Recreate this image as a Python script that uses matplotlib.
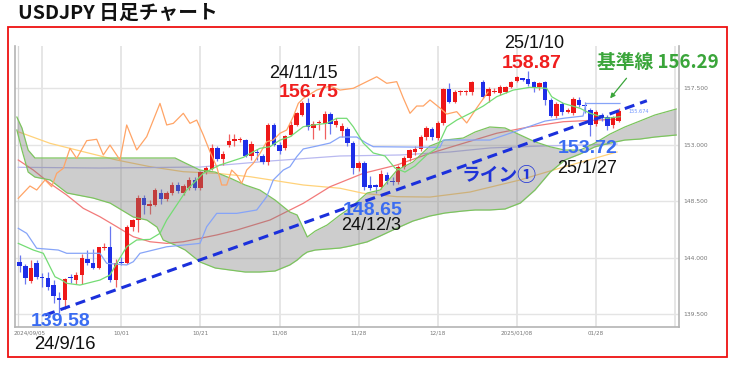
import matplotlib
matplotlib.use("Agg")
import matplotlib.pyplot as plt
from matplotlib.patches import Rectangle

W, H, DPI = 736, 366, 100

# ---------------- data (bar index, prices) ----------------
bar_idx = list(range(0, 81)) + list(range(82, 107))
opens = [143.69, 143.37, 142.18, 143.60, 142.50, 142.42, 141.84, 140.80, 140.64, 142.45,
         142.23, 142.63, 143.90, 143.60, 143.20, 144.82, 144.83, 142.23, 143.65, 143.60,
         146.43, 146.98, 148.79, 148.15, 148.20, 149.20, 148.66, 149.19, 149.80, 149.20,
         149.60, 150.20, 149.55, 150.86, 151.10, 152.72, 151.85, 152.99, 153.30, 153.40,
         153.38, 152.11, 152.45, 152.11, 151.66, 154.58, 152.99, 152.72, 153.78, 154.58,
         155.38, 156.30, 154.31, 154.71, 154.66, 155.43, 154.58, 154.10, 154.23, 153.12,
         151.12, 151.55, 149.80, 149.80, 149.67, 150.59, 150.14, 150.06, 151.26, 151.92,
         152.45, 152.64, 153.59, 154.23, 153.51, 154.76, 157.41, 156.43, 157.17, 157.20,
         157.17,
         158.02, 156.91, 157.23, 157.15, 157.23, 157.63, 158.10, 158.29, 158.21, 158.02,
         157.63, 158.02, 156.56, 155.29, 156.25, 155.64, 155.56, 156.56, 156.20, 155.75,
         154.66, 155.37, 155.24, 154.58, 154.92]
highs = [144.20, 143.50, 143.83, 143.80, 142.80, 142.90, 142.20, 141.30, 142.40, 142.70,
         142.90, 144.30, 144.60, 144.70, 144.90, 145.20, 146.50, 143.90, 144.09, 146.60,
         147.10, 149.00, 149.00, 148.60, 149.60, 149.50, 149.30, 150.00, 150.00, 149.90,
         150.40, 150.40, 150.90, 151.30, 153.10, 152.90, 152.50, 153.90, 153.90, 153.60,
         153.50, 153.30, 152.70, 152.30, 154.70, 154.70, 153.20, 153.80, 154.90, 155.60,
         156.50, 156.75, 154.90, 155.00, 155.70, 155.60, 155.10, 154.70, 154.40, 153.30,
         151.70, 151.70, 150.50, 149.90, 151.00, 150.80, 150.40, 151.40, 152.10, 152.70,
         152.90, 153.80, 154.50, 154.40, 154.90, 157.50, 157.90, 157.40, 157.40, 157.40,
         158.10,
         158.20, 157.60, 157.50, 157.80, 157.70, 158.10, 158.50, 158.35, 158.87, 158.10,
         158.00, 158.10, 156.70, 156.40, 156.40, 155.90, 156.80, 156.80, 156.40, 155.90,
         155.80, 155.50, 155.40, 155.30, 155.90]
lows = [142.90, 141.90, 142.02, 142.30, 141.70, 141.40, 140.40, 139.58, 139.90, 142.00,
        141.90, 141.90, 143.40, 143.10, 143.10, 144.60, 142.10, 141.70, 143.43, 143.50,
        146.10, 146.08, 147.50, 147.50, 148.10, 148.30, 148.50, 149.00, 149.20, 149.00,
        149.40, 149.40, 149.40, 150.70, 151.00, 151.70, 151.40, 152.80, 152.90, 153.20,
        152.00, 151.80, 151.80, 151.50, 151.40, 152.90, 152.30, 152.60, 153.70, 154.50,
        155.30, 154.20, 153.50, 154.20, 153.50, 153.90, 154.40, 153.60, 152.90, 150.70,
        150.90, 149.40, 149.40, 149.20, 149.50, 149.90, 149.80, 149.90, 151.10, 151.70,
        152.20, 152.50, 153.40, 153.40, 153.40, 154.60, 156.30, 156.30, 157.00, 157.00,
        157.00,
        156.70, 156.40, 157.10, 157.00, 157.10, 157.50, 158.00, 158.10, 157.70, 157.20,
        157.40, 156.20, 155.20, 155.10, 155.40, 155.50, 155.40, 156.00, 155.50, 153.72,
        154.50, 154.90, 154.20, 154.30, 154.80]
closes = [143.37, 142.37, 143.16, 142.45, 142.42, 141.70, 140.96, 140.68, 142.29, 142.40,
          142.63, 144.01, 143.60, 143.20, 144.83, 144.90, 142.23, 143.60, 143.60, 146.45,
          146.98, 148.74, 148.20, 148.30, 149.40, 148.66, 149.13, 149.80, 149.35, 149.70,
          150.20, 149.55, 150.80, 151.18, 152.72, 151.85, 152.30, 153.33, 153.44, 153.46,
          152.11, 153.07, 152.35, 151.66, 154.58, 152.99, 152.53, 153.70, 154.58, 155.51,
          156.30, 154.40, 154.66, 154.84, 155.43, 154.66, 154.90, 154.50, 153.12, 151.12,
          151.52, 149.67, 149.60, 149.67, 150.67, 150.14, 150.01, 151.26, 151.92, 152.58,
          152.64, 153.64, 154.31, 153.59, 154.76, 157.41, 156.43, 157.23, 157.30, 157.30,
          158.02,
          156.83, 157.41, 157.30, 157.63, 157.63, 158.02, 158.42, 158.16, 157.84, 157.57,
          157.95, 156.56, 155.29, 156.25, 155.64, 155.77, 156.62, 156.17, 156.10, 154.60,
          155.60, 155.10, 154.50, 155.24, 155.67]

# Ichimoku cloud (leading spans), read at common positions
cloud_x = [-0.5, 0.4, 1.5, 2.7, 5.4, 8.4, 13.0, 16.0, 20.1, 22.5, 24.3, 25.4, 27.5, 29.3,
           31.9, 34.6, 37.2, 39.9, 42.5, 45.2, 47.8, 49.1, 50.1, 50.9, 52.3, 54.4, 56.7,
           58.5, 61.5, 63.8, 66.8, 69.6, 72.6, 75.3, 78.5, 80.6, 83.2, 85.9, 88.6, 91.2,
           93.9, 96.5, 99.2, 101.8, 104.5, 107.1, 109.8, 112.4, 116.2]
span_a = [155.21, 154.34, 152.58, 151.95, 151.95, 151.95, 151.95, 151.95, 151.95, 151.95,
          151.95, 151.95, 151.95, 151.55, 150.99, 150.83, 150.36, 149.80, 149.40, 148.60,
          147.65, 147.41, 146.45, 145.66, 146.13, 146.61, 147.41, 147.97, 149.16, 149.40,
          150.99, 151.63, 152.90, 153.38, 153.54, 154.02, 154.42, 154.34, 153.78, 153.24,
          152.84, 152.58, 152.58, 153.14, 153.86, 154.42, 154.90, 155.37, 155.85]
span_b = [154.18, 152.58, 150.83, 150.43, 150.20, 149.16, 148.76, 148.36, 147.25, 147.01,
          146.45, 145.42, 145.02, 144.62, 143.67, 143.19, 143.03, 142.87, 142.87, 142.95,
          143.43, 143.82, 144.22, 144.46, 144.62, 144.70, 144.78, 144.94, 145.27, 145.74,
          146.37, 146.93, 147.33, 147.57, 147.73, 147.81, 147.81, 147.89, 148.36, 149.40,
          150.83, 151.79, 152.27, 152.84, 153.14, 153.38, 153.46, 153.62, 153.78]

# conversion line (tenkan)
tenkan_x = [-0.25, 2.41, 4.18, 5.36, 6.25, 7.43, 8.32, 10.67, 14.21, 15.98, 17.17, 18.94,
            20.71, 23.06, 24.83, 26.02, 29.56, 32.50, 35.43, 37.22, 39.58, 41.35, 42.53,
            44.30, 46.07, 47.84, 49.03, 50.19, 51.96, 54.34, 56.11, 57.88, 59.04, 60.81,
            62.58, 64.65, 66.42, 68.19, 69.96, 72.04, 73.81, 75.58, 77.35, 79.73, 82.05,
            84.42, 87.36, 90.32, 93.27, 94.16, 96.21, 99.17, 100.94, 103.89, 106.25]
tenkan_y = [145.15, 144.62, 144.36, 143.29, 142.49, 142.23, 141.97, 141.83, 142.23, 142.63,
            143.56, 144.88, 145.42, 145.47, 145.95, 147.01, 149.40, 150.73, 151.39, 151.65,
            152.00, 152.45, 152.72, 152.85, 153.38, 153.64, 154.04, 154.44, 154.58, 154.71,
            155.11, 155.11, 154.44, 153.14, 152.35, 152.11, 151.15, 150.83, 151.31, 152.19,
            152.72, 154.44, 154.97, 155.51, 156.09, 156.83, 157.36, 157.58, 157.50, 156.83,
            156.30, 155.91, 155.51, 155.11, 155.24]

# base line (kijun)
kijun_x = [-0.25, 1.24, 3.01, 6.83, 8.32, 14.21, 15.40, 18.94, 20.11, 21.29, 26.02, 31.91,
           33.10, 34.87, 38.41, 41.95, 43.72, 44.88, 46.65, 47.84, 49.03, 50.19, 52.57,
           54.92, 56.69, 59.65, 61.42, 62.58, 74.39, 74.97, 83.24, 85.89, 89.43, 92.97,
           96.51, 99.70, 100.23, 106.25]
kijun_y = [146.35, 145.95, 144.76, 144.62, 144.36, 144.36, 143.56, 143.43, 143.69, 144.36,
           144.88, 145.15, 146.48, 147.54, 147.54, 147.81, 148.87, 150.20, 150.99, 151.26,
           152.05, 152.67, 152.90, 153.14, 153.62, 153.62, 153.12, 152.85, 152.80, 153.38,
           153.38, 153.78, 154.34, 154.89, 155.13, 155.29, 156.29, 156.29]

# lagging span (chikou)
chikou_x = [-0.25, 1.82, 3.01, 4.48, 5.66, 6.55, 7.72, 8.90, 10.09, 11.86, 13.63, 14.80,
            15.98, 17.75, 18.94, 20.71, 22.48, 24.83, 26.02, 27.19, 28.96, 30.14, 31.33,
            32.50, 33.68, 34.87, 35.75, 36.64, 37.52, 38.41, 39.29, 40.18, 41.35, 42.53,
            43.72, 44.88, 46.07, 47.26, 48.42, 49.31, 50.19, 52.57, 54.92, 56.69, 59.04,
            61.42, 63.19, 64.96, 66.73, 67.89, 69.08, 70.27, 71.43, 72.62, 74.39, 75.58,
            77.35, 79.12, 80.88, 82.88]
chikou_y = [148.74, 149.72, 149.40, 150.20, 149.66, 150.73, 151.13, 152.72, 151.92, 153.33,
            153.44, 152.19, 152.98, 151.79, 154.58, 152.59, 153.65, 156.30, 154.58, 154.71,
            155.51, 154.71, 154.97, 153.78, 152.45, 151.26, 149.80, 149.80, 150.99, 150.60,
            149.93, 150.99, 151.53, 152.32, 153.25, 153.38, 153.92, 154.18, 155.24, 156.30,
            156.70, 157.36, 157.68, 157.36, 157.50, 158.03, 158.42, 157.90, 158.03, 156.73,
            155.51, 156.09, 156.09, 156.57, 155.93, 155.45, 155.64, 154.74, 155.93, 157.20]

# moving averages
ma_red_x = [-0.25, 2.41, 5.36, 8.32, 11.26, 14.21, 17.17, 20.11, 23.06, 26.02, 28.96, 31.91,
            34.87, 38.41, 44.30, 50.19, 54.92, 60.81, 66.73, 72.62, 78.51, 84.42, 90.32,
            96.21, 102.12, 105.66]
ma_red_y = [151.79, 150.99, 149.93, 149.00, 147.94, 147.27, 146.48, 145.68, 145.28, 145.15,
            145.28, 145.55, 145.82, 146.21, 147.01, 148.34, 149.66, 150.73, 151.39, 152.32,
            153.12, 153.92, 154.44, 154.84, 154.97, 155.03]
ma_yel_x = [-0.25, 5.36, 11.26, 17.17, 23.06, 28.96, 34.87, 40.76, 50.19, 56.69, 60.81,
            66.73, 72.62, 79.70, 88.55, 95.63, 105.72]
ma_yel_y = [154.04, 153.12, 152.45, 151.79, 151.26, 150.86, 150.73, 150.46, 149.80, 149.54,
            149.14, 148.87, 148.84, 149.24, 150.20, 151.15, 152.43]
ma_pur_x = [-0.25, 14.21, 31.91, 44.30, 56.69, 67.31, 76.16, 83.24, 92.09, 105.72]
ma_pur_y = [151.21, 151.15, 151.23, 151.71, 152.11, 152.19, 152.43, 152.75, 152.90, 153.06]

# trend line (two anchors) and arrow to the base line
trend_x = [4.5, 111.0]
trend_y = [139.44, 156.51]
arrow_from = (107.4, 158.30)
arrow_to = (104.5, 156.70)
last_price = 155.674

yticks = [139.5, 144.0, 148.5, 153.0, 157.5]
grid_x = [4, 18, 32, 46, 60, 74, 88, 102, 116]
xlabel_pos = [1.8, 18, 32, 46, 60, 74, 88, 102]
xlabels = ["2024/09/05", "10/01", "10/21", "11/08", "11/28", "12/18", "2025/01/08", "01/28"]

# ---------------- drawing ----------------
RED, BLUE = "#ee1818", "#1e2ee8"
RED_W, BLUE_W = "#f06060", "#6a78f0"

fig = plt.figure(figsize=(W / DPI, H / DPI), dpi=DPI)
fig.patch.set_facecolor("white")
ax = fig.add_axes([15 / W, 1 - 327 / H, (679 - 15) / W, (327 - 46) / H])
ax.set_xlim(-0.83, 116.69)
ax.set_ylim(138.49, 160.87)

for y in yticks:
    ax.axhline(y, color="#e4e4e4", lw=1.0, zorder=0)
for x in grid_x:
    ax.axvline(x, color="#e4e4e4", lw=1.3, zorder=0)
ax.axvline(-0.3, color="#d6d6d6", lw=0.9, zorder=0)

# moving averages
ax.plot(ma_yel_x, ma_yel_y, color="#ffd27a", lw=0.9, zorder=1)
ax.plot(ma_pur_x, ma_pur_y, color="#b9b9f0", lw=0.9, zorder=1)
ax.plot(ma_red_x, ma_red_y, color="#f27a7a", lw=0.9, zorder=1)

# candles
for x, o, h, l, c in zip(bar_idx, opens, highs, lows, closes):
    up = c >= o
    ax.vlines(x, l, h, color=RED_W if up else BLUE_W, lw=0.9, zorder=3)
    ax.add_patch(Rectangle((x - 0.39, min(o, c)), 0.78, max(abs(c - o), 0.05),
                           facecolor=RED if up else BLUE, edgecolor="none", zorder=3.5))

# cloud drawn over the candles
ax.fill_between(cloud_x, span_a, span_b, color="#7c7c7c", alpha=0.38, lw=0, zorder=4)
ax.plot(cloud_x, span_a, color="#7cc45e", lw=0.9, zorder=4.2)
ax.plot(cloud_x, span_b, color="#7cc45e", lw=0.9, zorder=4.2)

ax.plot(chikou_x, chikou_y, color="#ffa466", lw=0.9, zorder=4.5)
ax.plot(kijun_x, kijun_y, color="#86a4f8", lw=0.9, zorder=4.5)
ax.plot(tenkan_x, tenkan_y, color="#74dc74", lw=0.9, zorder=4.5)

ax.plot(trend_x, trend_y, color="#1b30dc", lw=2.2, ls=(0, (3.3, 2.0)), zorder=6,
        solid_capstyle="butt", dash_capstyle="butt")

ax.annotate("", xy=arrow_to, xytext=arrow_from,
            arrowprops=dict(arrowstyle="-|>", color="#3aa53a", lw=0.9,
                            mutation_scale=7, shrinkA=0, shrinkB=0), zorder=7)
ax.text(107.7, last_price, "155.674", fontsize=3.6, color="#6f95ff", va="center",
        ha="left", zorder=7)

# axes styling
ax.spines["top"].set_visible(False)
for s in ["left", "right", "bottom"]:
    ax.spines[s].set_color("#b4b4b4")
    ax.spines[s].set_linewidth(1.2)
ax.yaxis.tick_right()
ax.set_yticks(yticks)
ax.set_yticklabels([f"{v:.3f}" for v in yticks], fontsize=4.3, color="#777777",
                   family="DejaVu Sans")
ax.set_xticks(xlabel_pos)
ax.set_xticklabels(xlabels, fontsize=4.1, color="#777777", family="DejaVu Sans")
ax.tick_params(axis="both", length=0, pad=3)
ax.tick_params(axis="x", pad=2.2)

# ---------------- texts ----------------
def ftext(px, py, s, **kw):
    fig.text(px / W, 1 - py / H, s, **kw)

NUM = dict(family="Liberation Sans", va="baseline", ha="center")
ftext(18, 19, "USDJPY 日足チャート", family=["Noto Sans CJK JP", "DejaVu Sans"],
      fontsize=14.2, weight="bold", ha="left", va="baseline", color="#111111")

ftext(61, 326.5, "139.58", fontsize=14, weight="bold", color="#3a6cf2", **NUM)
ftext(65, 349, "24/9/16", fontsize=13.3, color="#111111", **NUM)
ftext(303, 78, "24/11/15", fontsize=13, color="#111111", **NUM)
ftext(308.5, 97, "156.75", fontsize=14, weight="bold", color="#f01e1e", **NUM)
ftext(372.5, 214.5, "148.65", fontsize=14, weight="bold", color="#3a6cf2", **NUM)
ftext(371.5, 230.5, "24/12/3", fontsize=13, color="#111111", **NUM)
ftext(534.5, 48, "25/1/10", fontsize=13, color="#111111", **NUM)
ftext(531.5, 68, "158.87", fontsize=14, weight="bold", color="#f01e1e", **NUM)
ftext(587.5, 153, "153.72", fontsize=14, weight="bold", color="#3a6cf2", **NUM)
ftext(587.5, 173, "25/1/27", fontsize=13, color="#111111", **NUM)
ftext(597, 68, "基準線 156.29", family=["Noto Sans CJK JP", "DejaVu Sans"], fontsize=13.5,
      weight="bold", color="#3aa53a", ha="left", va="baseline")
ftext(499.5, 181, "ライン①", family=["Noto Sans CJK JP", "DejaVu Sans"], fontsize=13.5,
      weight="bold", color="#1f33d8", ha="center", va="baseline")

# red frame
fig.patches.append(Rectangle((8 / W, 1 - 357 / H), (727 - 8) / W, (357 - 27) / H,
                             transform=fig.transFigure, fill=False, edgecolor="#ee1111",
                             lw=1.3))

fig.savefig("out.png", dpi=DPI)
